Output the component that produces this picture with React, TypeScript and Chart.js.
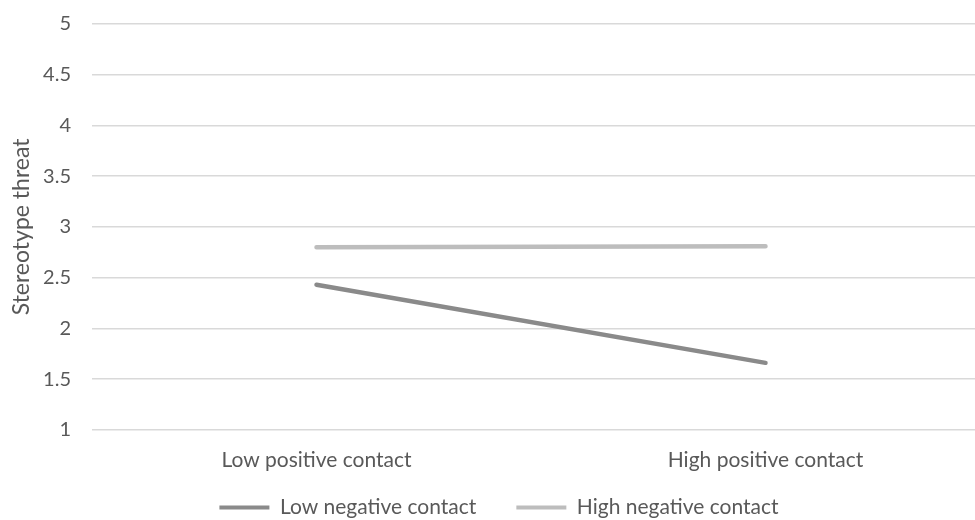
import React, { useEffect, useRef } from "react";
import { Chart, registerables } from "chart.js";

Chart.register(...registerables);

const categories = ["Low positive contact", "High positive contact"];
const lowNegative = [2.43, 1.66];
const highNegative = [2.8, 2.81];
const yTicks = [1, 1.5, 2, 2.5, 3, 3.5, 4, 4.5, 5];
const seriesNames = ["Low negative contact", "High negative contact"];
const seriesColors = ["#8a8a8a", "#bdbdbd"];

export default function App() {
  const ref = useRef<HTMLCanvasElement | null>(null);
  useEffect(() => {
    if (!ref.current) return;
    const font = "Lato, 'Open Sans', sans-serif";
    const chart = new Chart(ref.current, {
      type: "line",
      data: {
        labels: categories,
        datasets: [
          {
            label: seriesNames[0],
            data: lowNegative,
            borderColor: seriesColors[0],
            backgroundColor: seriesColors[0],
            borderWidth: 4.5,
            borderCapStyle: "round",
            pointRadius: 0,
            tension: 0,
          },
          {
            label: seriesNames[1],
            data: highNegative,
            borderColor: seriesColors[1],
            backgroundColor: seriesColors[1],
            borderWidth: 4.5,
            borderCapStyle: "round",
            pointRadius: 0,
            tension: 0,
          },
        ],
      },
      options: {
        animation: false,
        responsive: false,
        maintainAspectRatio: false,
        layout: { padding: { top: 0, left: 8, right: 10, bottom: 0 } },
        plugins: {
          tooltip: { enabled: false },
          legend: {
            position: "bottom",
            labels: {
              color: "#595959",
              font: { family: font, size: 21 },
              boxWidth: 50,
              boxHeight: 4,
              padding: 40,
              generateLabels: (c: any) =>
                c.data.datasets.map((d: any, i: number) => ({
                  text: d.label,
                  fillStyle: d.borderColor,
                  strokeStyle: d.borderColor,
                  lineWidth: 0,
                  hidden: false,
                  datasetIndex: i,
                  fontColor: "#595959",
                })),
            },
          },
        },
        scales: {
          x: {
            type: "category",
            offset: true,
            afterFit: (s: any) => {
              s.height -= 34;
              s._computeLabelArea = () => undefined;
            },
            grid: { display: false, drawTicks: false },
            border: { display: false },
            ticks: {
              color: "#595959",
              font: { family: font, size: 21 },
              padding: 18,
            },
          },
          y: {
            min: 1,
            max: 5,
            afterBuildTicks: (s: any) => {
              s.ticks = yTicks.map((v) => ({ value: v }));
            },
            afterFit: (s: any) => {
              s.width = 84;
              s.paddingTop = 24;
              s.paddingBottom = 0;
            },
            grid: { color: "#d9d9d9", lineWidth: 1.5, drawTicks: false },
            border: { display: false },
            ticks: {
              color: "#595959",
              font: { family: font, size: 20 },
              padding: 21,
              callback: (v: any) => String(v),
            },
            title: {
              display: true,
              text: "Stereotype threat",
              color: "#595959",
              font: { family: font, size: 23 },
              padding: { top: 0, bottom: 4 },
            },
          },
        },
      },
    });
    return () => chart.destroy();
  }, []);
  return (
    <div
      style={{
        position: "absolute",
        left: 0,
        top: 0,
        width: 975,
        height: 520,
        overflow: "hidden",
        background: "#fff",
      }}
    >
      <canvas ref={ref} width={1000} height={528} style={{ width: 1000, height: 528 }} />
    </div>
  );
}
